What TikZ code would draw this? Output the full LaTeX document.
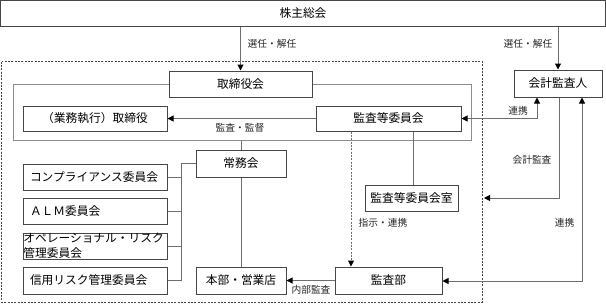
\documentclass[tikz,border=0pt]{standalone}
\usepackage{fontspec}
\setmainfont{Noto Sans CJK JP}
\usetikzlibrary{arrows.meta}
\definecolor{boxc}{RGB}{70,70,70}
\definecolor{linec}{RGB}{110,110,110}
\definecolor{framec}{RGB}{140,140,140}
\begin{document}
\begin{tikzpicture}[x=0.75pt,y=-0.75pt,
  box/.style={draw=boxc, line width=0.75pt, fill=white, inner sep=0pt,
    font=\fontsize{8.8}{10}\selectfont},
  sz/.style 2 args={minimum width={#1*0.75pt}, minimum height={#2*0.75pt}},
  cbox/.style={box, sz={144}{26}, align=left, text width=97.5pt},
  conn/.style={draw=linec, line width=0.75pt},
  tipa/.tip={Triangle[length=4.5pt,width=4.5pt,color=black]},
  arr/.style={conn, -tipa},
  arrtwo/.style={conn, tipa-tipa},
  lbl/.style={font=\fontsize{7.3}{8}\selectfont, inner sep=0pt, text=black!85}]
\useasboundingbox (0,0) rectangle (606,304);
% dashed outer region
\draw[boxc, line width=0.75pt, dash pattern=on 1.5pt off 1pt] (1.5,61.5) rectangle (482,302);
% gray frame around board
\node[draw=framec, line width=0.75pt, inner sep=0pt, sz={458}{56}] (frame) at (242,112) {};
% boxes
\node[box, sz={605}{26}] (kabu) at (303,13.5) {株主総会};
\node[box, sz={143}{26}] (torikai) at (240.5,84) {取締役会};
\node[box, sz={144}{25}] (gyomu) at (95,118.5) {（業務執行）取締役};
\node[box, sz={145}{25}] (kansatou) at (388.5,118.5) {監査等委員会};
\node[box, sz={88}{27}] (kaikei) at (558,83.5) {会計監査人};
\node[box, sz={90}{27}] (jomu) at (241,163.5) {常務会};
\node[cbox] (comp) at (95,177) {コンプライアンス委員会};
\node[cbox] (alm) at (95,211) {ＡＬＭ委員会};
\node[box, sz={144}{26}, align=left, text width=107.5pt, font=\fontsize{8.8}{11}\selectfont] (opera) at (95,246) {オペレーショナル・リスク\\管理委員会};
\node[cbox, sz={144}{27}] (shinyo) at (95,280.5) {信用リスク管理委員会};
\node[box, sz={90}{27}] (honbu) at (241,280.5) {本部・営業店};
\node[box, sz={107}{27}] (kansabu) at (388.5,280.5) {監査部};
\node[box, sz={93}{26}] (shitsu) at (411.5,198) {監査等委員会室};
% helper coordinates
\coordinate (c1) at (537,118.5);
\coordinate (c2) at (559,198);
\coordinate (c3) at (484,198);
\coordinate (c4) at (582,281);
\coordinate (c5) at (413,150);
\coordinate (c6) at (351,150);
\coordinate (bus) at (181,200);
% connectors
\draw[arr] (kabu.south -| torikai.north) -- (torikai.north);
\draw[arr] (kabu.south -| kaikei.north) -- (kaikei.north);
\draw[arr] (kansatou.west) -- (gyomu.east);
\draw[arrtwo] (kaikei.south -| c1) -- (c1) -- (kansatou.east);
\draw[arr] (kaikei.south -| c2) -- (c2) -- (c3);
\draw[arrtwo] (kaikei.south -| c4) -- (c4) -- (kansabu.east |- c4);
\draw[conn] (kansatou.south -| c5) -- (shitsu.north -| c5);
\draw[arr, dash pattern=on 1.5pt off 1pt] (kansatou.south -| c6) -- (kansabu.north -| c6);
\draw[arr] (kansabu.west |- honbu.east) -- (honbu.east);
\draw[conn] (frame.south -| jomu.north) -- (jomu.north);
\draw[conn] (jomu.south) -- (honbu.north);
\draw[conn] (jomu.west) -- (jomu.west -| bus) -- (shinyo.east -| bus) -- (shinyo.east);
\draw[conn] (comp.east) -- (comp.east -| bus);
\draw[conn] (alm.east) -- (alm.east -| bus);
\draw[conn] (opera.east) -- (opera.east -| bus);
% labels
\node[lbl] (l1) at (272,44) {選任・解任};
\node[lbl] (l2) at (528,44) {選任・解任};
\node[lbl] (l3) at (240,127.5) {監査・監督};
\node[lbl] (l4) at (518,111) {連携};
\node[lbl] (l5) at (532,160) {会計監査};
\node[lbl] (l6) at (383,223) {指示・連携};
\node[lbl] (l7) at (564.5,223) {連携};
\node[lbl] (l8) at (311,290) {内部監査};
\end{tikzpicture}
\end{document}
